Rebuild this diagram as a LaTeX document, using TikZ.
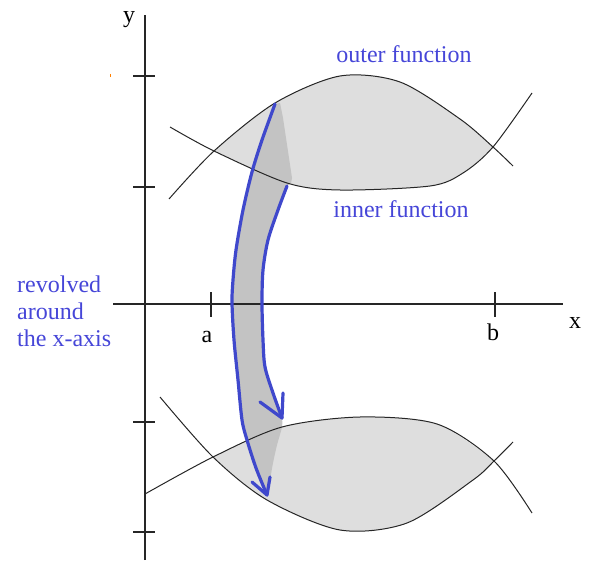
\documentclass[tikz,border=0pt]{standalone}
\usepackage{fontspec}
\setmainfont{Liberation Serif}
\definecolor{paintblue}{HTML}{3F48CC}
\definecolor{txtblue}{HTML}{4646D8}
\definecolor{lightfill}{HTML}{DEDEDE}
\definecolor{darkfill}{HTML}{C3C3C3}
\begin{document}
\begin{tikzpicture}[x=1pt,y=-1pt,
  axis/.style={black!85, line width=1.2pt},
  curve/.style={black!85, line width=1pt},
  stroke/.style={draw=paintblue, line width=3.2pt, line cap=round, line join=round},
  lbl/.style={text=txtblue, font=\fontsize{24}{27}\selectfont, inner sep=0pt},
  albl/.style={text=black, font=\fontsize{24}{27}\selectfont, inner sep=0pt, anchor=base}]
\useasboundingbox (0,0) rectangle (594,561);
% axes
\coordinate (ytop) at (145,15);
\coordinate (ybot) at (145,560);
\coordinate (xl) at (113,304);
\coordinate (xr) at (563,304);
% light fills
\fill[lightfill] plot[smooth] coordinates {(214,151) (275,103) (340,76) (400,82) (460,119) (493,147)}
  -- plot[smooth] coordinates {(493,147) (463,173) (430,186) (340,190) (287,183) (214,151)} -- cycle;
\fill[lightfill] plot[smooth] coordinates {(213,457) (282,427) (360,417) (437,424) (494,461)}
  -- plot[smooth] coordinates {(494,461) (473,480) (407,523) (340,530) (267,500) (213,457)} -- cycle;
% dark strip
\fill[darkfill] plot[smooth] coordinates {(275,104) (262,140) (252,172) (243,210) (236,250) (233,280) (232,303) (234,340) (238,380) (242,420) (247,440) (256,468) (267,495)}
  -- plot[smooth] coordinates {(267,495) (270,480) (273,463) (277,445) (282,427) (282,418)}
  -- plot[smooth] coordinates {(282,418) (273,393) (265,367) (263,340) (262,303) (263,270) (268,240) (278,210) (287,186)}
  -- (291,183) -- (292,178) -- (283,118) -- (280,103) -- cycle;
% axes lines
\draw[axis] (ybot) -- (ytop);
\draw[axis] (xl) -- (xr);
\foreach \yy in {76,187,422,532} {\draw[axis] (133,\yy) -- (155,\yy);}
\draw[axis] (211,292) -- (211,317);
\draw[axis] (495,292) -- (495,317);
% black curves
\draw[curve] plot[smooth] coordinates {(169,199) (214,151) (275,103) (340,76) (400,82) (460,119) (493,147) (513,166)};
\draw[curve] plot[smooth] coordinates {(170,127) (214,151) (287,183) (340,190) (430,186) (463,173) (493,147) (532,93)};
\draw[curve] plot[smooth] coordinates {(145,494) (213,457) (282,427) (360,417) (437,424) (494,461) (532,513)};
\draw[curve] plot[smooth] coordinates {(160,397) (213,457) (267,500) (340,530) (407,523) (473,480) (494,461) (513,442)};
% blue strokes
\draw[stroke] plot[smooth] coordinates {(275,104) (262,140) (252,172) (243,210) (236,250) (233,280) (232,303) (234,340) (238,380) (242,420) (247,440) (256,468) (267,495)};
\draw[stroke] plot[smooth] coordinates {(287,186) (278,210) (268,240) (263,270) (262,303) (263,340) (265,367) (273,393) (282,418)};
\draw[stroke] (260,402) -- (282,418) -- (283,393);
\draw[stroke] (252,482) -- (267,495) -- (270,477);
% stray mark
\draw[orange, line width=0.8pt] (110,74) -- (110,77);
% labels
\node[lbl, anchor=base] (outer) at (404,63) {outer function};
\node[lbl, anchor=base] (inner) at (401,218) {inner function};
\node[lbl, anchor=base west] (rev1) at (17,292) {revolved};
\node[lbl, anchor=base west] (rev2) at (17,319) {around};
\node[lbl, anchor=base west] (rev3) at (17,346) {the x-axis};
\node[albl] (la) at (207,342) {a};
\node[albl] (lb) at (493,340) {b};
\node[albl] (lx) at (575,328) {x};
\node[albl] (ly) at (129,23) {y};
\end{tikzpicture}
\end{document}
